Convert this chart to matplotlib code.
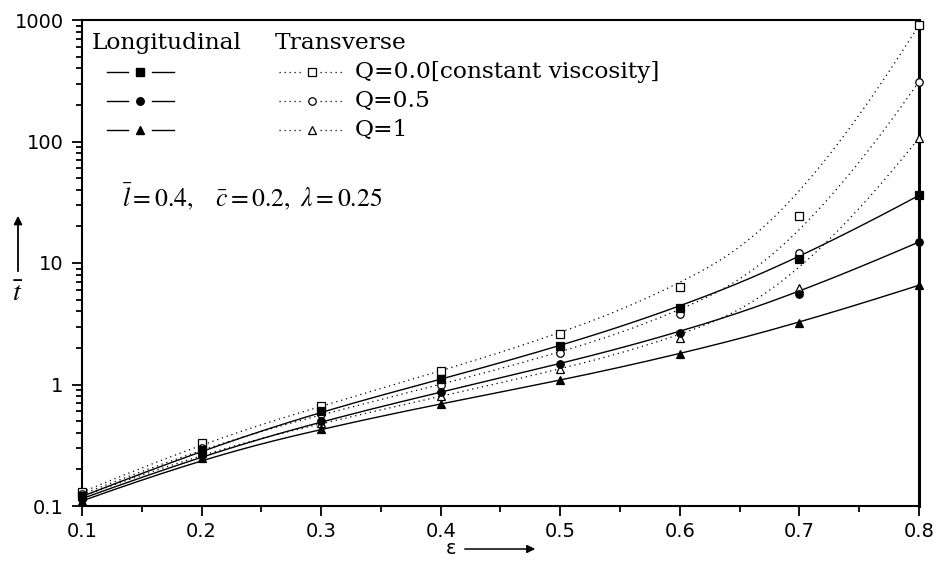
import numpy as np
import matplotlib
matplotlib.use("Agg")
import matplotlib.pyplot as plt
from matplotlib.lines import Line2D
from matplotlib.ticker import LogLocator, FixedLocator, NullFormatter

# ---------------- data ----------------
eps = [0.1, 0.2, 0.3, 0.4, 0.5, 0.6, 0.7, 0.8]
long_q0 = [0.120, 0.289, 0.605, 1.10, 2.07, 4.28, 10.7, 36.0]
long_q05 = [0.115, 0.261, 0.500, 0.867, 1.48, 2.66, 5.6, 14.9]
long_q1 = [0.110, 0.248, 0.433, 0.695, 1.08, 1.77, 3.18, 6.56]
trans_q0 = [0.130, 0.333, 0.665, 1.29, 2.61, 6.32, 24.5, 910.0]
trans_q05 = [0.125, 0.303, 0.568, 1.00, 1.82, 3.82, 12.2, 311.0]
trans_q1 = [0.120, 0.275, 0.479, 0.80, 1.33, 2.42, 6.24, 107.0]
labels = ["Q=0.0[constant viscosity]", "Q=0.5", "Q=1"]
xticks = [0.1, 0.2, 0.3, 0.4, 0.5, 0.6, 0.7, 0.8]
yticks = [0.1, 1, 10, 100, 1000]
ytick_labels = ["0.1", "1", "10", "100", "1000"]

W, H = 937, 561


def px(x, y):
    return (x / W, 1 - y / H)


def bspline(xs, ys, n=300):
    """Clamped cubic B-spline using the points as control points (log-y)."""
    P = np.column_stack([np.asarray(xs, float), np.log10(np.asarray(ys, float))])
    k = 3
    m = len(P)
    knots = np.concatenate([np.zeros(k), np.linspace(0, 1, m - k + 1), np.ones(k)])
    ts = np.linspace(0, 1, n)
    out = []
    for t in ts:
        if t >= 1.0:
            out.append(P[-1])
            continue
        j = np.searchsorted(knots, t, side="right") - 1
        d = [P[j - k + i].copy() for i in range(k + 1)]
        for r in range(1, k + 1):
            for i in range(k, r - 1, -1):
                idx = j - k + i
                a = (t - knots[idx]) / (knots[idx + k + 1 - r] - knots[idx])
                d[i] = (1 - a) * d[i - 1] + a * d[i]
        out.append(d[k])
    out = np.array(out)
    return out[:, 0], 10 ** out[:, 1]


plt.rcParams["mathtext.fontset"] = "stix"
fig = plt.figure(figsize=(W / 100, H / 100), dpi=100)
ax = fig.add_axes([82 / W, 1 - 506 / H, (919 - 82) / W, (506 - 20) / H])

dot = (0, (1, 3))
MS = 5.4
longs = [long_q0, long_q05, long_q1]
trans = [trans_q0, trans_q05, trans_q1]
mk = ["s", "o", "^"]
for i in range(3):
    xs, ys = bspline(eps, trans[i])
    ax.plot(xs, ys, color="black", lw=0.9, linestyle=dot, zorder=2)
    xs, ys = bspline(eps, longs[i])
    ax.plot(xs, ys, color="black", lw=1.0, linestyle="-", zorder=2)
    ax.plot(eps, trans[i], linestyle="none", marker=mk[i], ms=MS,
            mfc="white", mec="black", mew=0.9, zorder=3, clip_on=False)
    ax.plot(eps, longs[i], linestyle="none", marker=mk[i], ms=MS,
            mfc="black", mec="black", mew=0.9, zorder=4, clip_on=False)

ax.set_yscale("log")
ax.set_xlim(0.1, 0.8)
ax.set_ylim(0.1, 1000)
ax.xaxis.set_major_locator(FixedLocator(xticks))
ax.xaxis.set_minor_locator(FixedLocator([0.15, 0.25, 0.35, 0.45, 0.55, 0.65, 0.75]))
ax.set_xticklabels([f"{v:.1f}" for v in xticks])
ax.yaxis.set_major_locator(FixedLocator(yticks))
ax.set_yticklabels(ytick_labels)
ax.yaxis.set_minor_locator(LogLocator(base=10, subs=np.arange(2, 10), numticks=20))
ax.yaxis.set_minor_formatter(NullFormatter())
ax.tick_params(which="both", direction="out", top=False, right=False,
               labelsize=14, width=1.3, colors="black")
ax.tick_params(which="major", length=7.2)
ax.tick_params(axis="x", which="major", pad=4)
ax.tick_params(axis="y", which="major", pad=6)
ax.tick_params(which="minor", length=4)
for lab in ax.get_xticklabels() + ax.get_yticklabels():
    lab.set_family("DejaVu Sans")
for s in ["left", "bottom", "top"]:
    ax.spines[s].set_linewidth(1.5)
ax.spines["right"].set_linewidth(2.2)

# ---------------- legend (drawn manually) ----------------
serif = "DejaVu Serif"
FS = 16.8
fig.text(*px(92, 43), "Longitudinal", family=serif, fontsize=FS, va="center", ha="left")
fig.text(*px(275, 43), "Transverse", family=serif, fontsize=FS, va="center", ha="left")
rows = [72, 101, 130]
for i, yy in enumerate(rows):
    fig.add_artist(Line2D([107 / W, 128 / W], [1 - yy / H] * 2, color="black", lw=1.0))
    fig.add_artist(Line2D([152 / W, 174 / W], [1 - yy / H] * 2, color="black", lw=1.0))
    fig.add_artist(Line2D([140 / W], [1 - yy / H], marker=mk[i], ms=MS,
                          mfc="black", mec="black", linestyle="none"))
    fig.add_artist(Line2D([279 / W, 304 / W], [1 - yy / H] * 2, color="black",
                          lw=0.9, linestyle=dot))
    fig.add_artist(Line2D([320 / W, 344 / W], [1 - yy / H] * 2, color="black",
                          lw=0.9, linestyle=dot))
    fig.add_artist(Line2D([312 / W], [1 - yy / H], marker=mk[i], ms=MS,
                          mfc="white", mec="black", mew=0.9, linestyle="none"))
    fig.text(*px(355, yy), labels[i], family=serif, fontsize=FS, va="center", ha="left")

fig.text(*px(122, 197), r"$\bar{l}=0.4,\ \ \ \bar{c}=0.2,\ \lambda=0.25$",
         fontsize=18.5, va="center", ha="left")

# ---------------- axis labels with arrows ----------------
fig.add_artist(plt.Annotation("", xy=px(18, 213), xytext=px(18, 274),
                              xycoords="figure fraction", textcoords="figure fraction",
                              arrowprops=dict(arrowstyle="-|>", color="black", lw=1.3,
                                              mutation_scale=12)))
fig.text(*px(18, 293), r"$\bar{t}$", fontsize=20, va="center", ha="center")
fig.text(*px(451, 549), "ε", family="DejaVu Sans", fontsize=14, va="center", ha="center")
fig.add_artist(plt.Annotation("", xy=px(538, 549), xytext=px(462, 549),
                              xycoords="figure fraction", textcoords="figure fraction",
                              arrowprops=dict(arrowstyle="-|>", color="black", lw=1.1,
                                              mutation_scale=12)))

fig.savefig("out.png", dpi=100)
